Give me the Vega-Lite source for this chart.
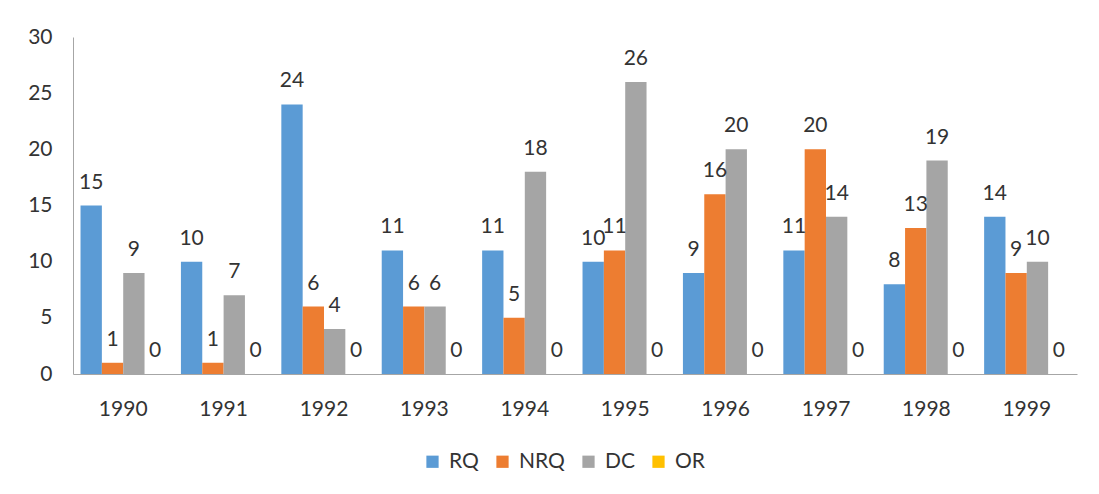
{
  "$schema": "https://vega.github.io/schema/vega-lite/v6.json",
  "autosize": "none",
  "width": 1004,
  "height": 337,
  "padding": {"left": 73, "top": 37, "right": 22, "bottom": 120},
  "background": "white",
  "config": {
    "view": {"stroke": null},
    "font": "Lato",
    "axis": {"labelFont": "Lato", "labelFontSize": 21, "labelColor": "#333333", "domainColor": "#a6a6a6", "grid": false, "ticks": false, "title": null},
    "legend": {"labelFont": "Lato", "labelFontSize": 21, "labelColor": "#333333"}
  },
  "data": {
    "values": [
      {"year": "1990", "series": "RQ", "value": 15}, {"year": "1990", "series": "NRQ", "value": 1}, {"year": "1990", "series": "DC", "value": 9}, {"year": "1990", "series": "OR", "value": 0},
      {"year": "1991", "series": "RQ", "value": 10}, {"year": "1991", "series": "NRQ", "value": 1}, {"year": "1991", "series": "DC", "value": 7}, {"year": "1991", "series": "OR", "value": 0},
      {"year": "1992", "series": "RQ", "value": 24}, {"year": "1992", "series": "NRQ", "value": 6}, {"year": "1992", "series": "DC", "value": 4}, {"year": "1992", "series": "OR", "value": 0},
      {"year": "1993", "series": "RQ", "value": 11}, {"year": "1993", "series": "NRQ", "value": 6}, {"year": "1993", "series": "DC", "value": 6}, {"year": "1993", "series": "OR", "value": 0},
      {"year": "1994", "series": "RQ", "value": 11}, {"year": "1994", "series": "NRQ", "value": 5}, {"year": "1994", "series": "DC", "value": 18}, {"year": "1994", "series": "OR", "value": 0},
      {"year": "1995", "series": "RQ", "value": 10}, {"year": "1995", "series": "NRQ", "value": 11}, {"year": "1995", "series": "DC", "value": 26}, {"year": "1995", "series": "OR", "value": 0},
      {"year": "1996", "series": "RQ", "value": 9}, {"year": "1996", "series": "NRQ", "value": 16}, {"year": "1996", "series": "DC", "value": 20}, {"year": "1996", "series": "OR", "value": 0},
      {"year": "1997", "series": "RQ", "value": 11}, {"year": "1997", "series": "NRQ", "value": 20}, {"year": "1997", "series": "DC", "value": 14}, {"year": "1997", "series": "OR", "value": 0},
      {"year": "1998", "series": "RQ", "value": 8}, {"year": "1998", "series": "NRQ", "value": 13}, {"year": "1998", "series": "DC", "value": 19}, {"year": "1998", "series": "OR", "value": 0},
      {"year": "1999", "series": "RQ", "value": 14}, {"year": "1999", "series": "NRQ", "value": 9}, {"year": "1999", "series": "DC", "value": 10}, {"year": "1999", "series": "OR", "value": 0}
    ]
  },
  "encoding": {
    "x": {
      "field": "year", "type": "nominal",
      "scale": {"paddingInner": 0.15, "paddingOuter": 0.075},
      "axis": {"labelAngle": 0, "labelPadding": 24, "domainWidth": 1}
    },
    "xOffset": {"field": "series", "type": "nominal", "sort": ["RQ", "NRQ", "DC", "OR"], "scale": {"paddingInner": 0, "paddingOuter": 0}},
    "y": {
      "field": "value", "type": "quantitative",
      "scale": {"domain": [0, 30], "nice": false},
      "axis": {"values": [0, 5, 10, 15, 20, 25, 30], "labelPadding": 21, "domainWidth": 1}
    }
  },
  "layer": [
    {
      "mark": {"type": "bar"},
      "encoding": {
        "color": {
          "field": "series", "type": "nominal",
          "sort": ["RQ", "NRQ", "DC", "OR"],
          "scale": {"domain": ["RQ", "NRQ", "DC", "OR"], "range": ["#5b9bd5", "#ed7d31", "#a5a5a5", "#ffc000"]},
          "legend": {
            "title": null, "orient": "none", "direction": "horizontal", "columns": 4,
            "legendX": 349, "legendY": 414,
            "symbolType": "square", "symbolSize": 150, "symbolStrokeWidth": 0,
            "columnPadding": 13, "labelOffset": 6
          }
        }
      }
    },
    {
      "mark": {"type": "text", "baseline": "alphabetic", "dy": -17, "fontSize": 21, "font": "Lato", "color": "#333333"},
      "encoding": {
        "text": {"field": "value", "type": "quantitative"}
      }
    }
  ]
}
